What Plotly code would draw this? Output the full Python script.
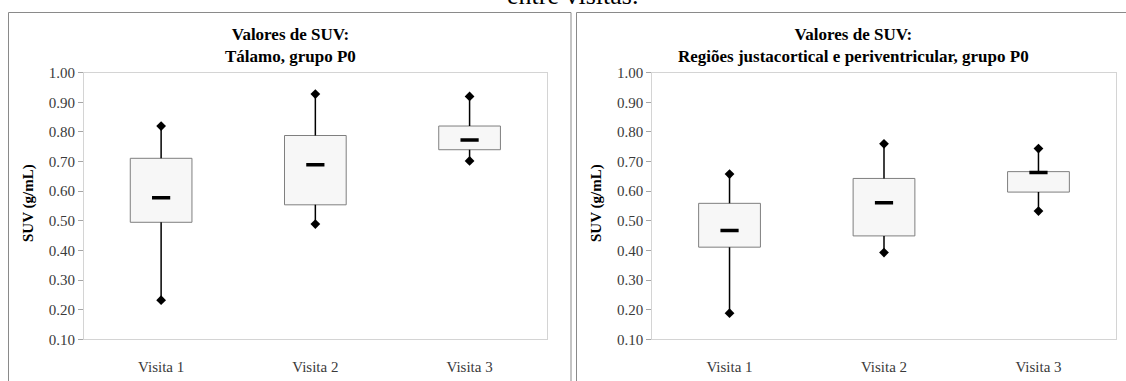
import plotly.graph_objects as go

W, H = 1126, 381

categories = ["Visita 1", "Visita 2", "Visita 3"]

# Painel 1: Tálamo, grupo P0
tal_min = [0.232, 0.489, 0.702]
tal_q1 = [0.495, 0.554, 0.740]
tal_med = [0.578, 0.689, 0.773]
tal_q3 = [0.711, 0.788, 0.820]
tal_max = [0.820, 0.928, 0.920]

# Painel 2: Regiões justacortical e periventricular, grupo P0
reg_min = [0.188, 0.393, 0.533]
reg_q1 = [0.411, 0.449, 0.597]
reg_med = [0.467, 0.561, 0.663]
reg_q3 = [0.559, 0.643, 0.666]
reg_max = [0.658, 0.760, 0.744]

y_ticks = [0.10, 0.20, 0.30, 0.40, 0.50, 0.60, 0.70, 0.80, 0.90, 1.00]
y_ticktext = ["%.2f" % v for v in y_ticks]

titles = ["<b>Valores de SUV:<br>Tálamo, grupo P0</b>",
          "<b>Valores de SUV:<br>Regiões justacortical e periventricular, grupo P0</b>"]
y_title = "<b>SUV (g/mL)</b>"
top_text = "entre visitas."

SERIF = "Liberation Serif"


def px_x(x):
    return x / W


def px_y(y):
    return (H - y) / H


fig = go.Figure()

panels = [
    (tal_min, tal_q1, tal_med, tal_q3, tal_max, "x", "y"),
    (reg_min, reg_q1, reg_med, reg_q3, reg_max, "x2", "y2"),
]

for mn, q1, med, q3, mx, xa, ya in panels:
    # box body
    fig.add_trace(go.Bar(
        x=categories, y=[b - a for a, b in zip(q1, q3)], base=q1,
        width=0.4, xaxis=xa, yaxis=ya,
        marker=dict(color="#f7f7f7", line=dict(color="#7f7f7f", width=1)),
        showlegend=False, hoverinfo="skip"))
    # whiskers
    wx, wy = [], []
    for c, a, b, lo, hi in zip(categories, q1, q3, mn, mx):
        wx += [c, c, None, c, c, None]
        wy += [hi, b, None, a, lo, None]
    fig.add_trace(go.Scatter(
        x=wx, y=wy, mode="lines", xaxis=xa, yaxis=ya,
        line=dict(color="black", width=1.5), showlegend=False, hoverinfo="skip"))
    # extremes
    fig.add_trace(go.Scatter(
        x=categories + categories, y=mx + mn, mode="markers", xaxis=xa, yaxis=ya,
        marker=dict(symbol="diamond", size=7.5, color="black"),
        showlegend=False))
    # median
    fig.add_trace(go.Scatter(
        x=categories, y=med, mode="markers", xaxis=xa, yaxis=ya,
        marker=dict(symbol="line-ew", size=13, line=dict(color="black", width=3.5)),
        showlegend=False))

plot_top, plot_bot = 72.7, 339.3
xdomains = [(84, 546.7), (652.3, 1115.7)]

axis_common_x = dict(
    showline=True, linecolor="#d4d4d4", linewidth=1, mirror=True, automargin=False,
    ticks="", showgrid=False, zeroline=False, range=[-0.5, 2.5],
    tickfont=dict(family=SERIF, size=15, color="#3a3a3a"),
    ticklabelstandoff=14,
)
axis_common_y = dict(
    showline=True, linecolor="#d4d4d4", linewidth=1, mirror=True, automargin=False,
    ticks="outside", ticklen=5, tickcolor="#a6a6a6", showgrid=False, zeroline=False,
    range=[0.1, 1.0], tickvals=y_ticks, ticktext=y_ticktext,
    tickfont=dict(family=SERIF, size=15, color="#3a3a3a"),
    domain=[px_y(plot_bot), px_y(plot_top)],
)

fig.update_layout(
    width=W, height=H, autosize=False,
    margin=dict(l=0, r=0, t=0, b=0, pad=0, autoexpand=False),
    paper_bgcolor="white", plot_bgcolor="white",
    xaxis=dict(domain=[px_x(xdomains[0][0]), px_x(xdomains[0][1])], anchor="y", **axis_common_x),
    yaxis=dict(anchor="x", **axis_common_y),
    xaxis2=dict(domain=[px_x(xdomains[1][0]), px_x(xdomains[1][1])], anchor="y2", **axis_common_x),
    yaxis2=dict(anchor="x2", **axis_common_y),
    bargap=0.6,
)

# panel borders
fig.add_shape(type="rect", xref="paper", yref="paper",
              x0=px_x(8.5), x1=px_x(571), y0=-0.1, y1=px_y(12.5),
              line=dict(color="#8a8a8a", width=1), layer="below")
fig.add_shape(type="rect", xref="paper", yref="paper",
              x0=px_x(576.5), x1=1.1, y0=-0.1, y1=px_y(12.5),
              line=dict(color="#8a8a8a", width=1), layer="below")

# titles
for t, cx in zip(titles, [290, 853]):
    fig.add_annotation(text=t, xref="paper", yref="paper", x=px_x(cx), y=px_y(46),
                       xanchor="center", yanchor="middle", showarrow=False,
                       font=dict(family=SERIF, size=17, color="black"))

# y-axis titles
for cx in [28, 596]:
    fig.add_annotation(text=y_title, xref="paper", yref="paper", x=px_x(cx),
                       y=px_y((plot_top + plot_bot) / 2 - 3), textangle=-90,
                       xanchor="center", yanchor="middle", showarrow=False,
                       font=dict(family=SERIF, size=15, color="black"))

# caption clipped at the top edge
fig.add_annotation(text=top_text, xref="paper", yref="paper", x=px_x(572), y=px_y(12),
                   xanchor="center", yanchor="bottom", showarrow=False,
                   font=dict(family=SERIF, size=26, color="black"))

fig.write_html("out.html",
               config={"displayModeBar": False},
               post_script="document.body.style.margin='0px';"
                           "document.body.style.overflow='hidden';")
